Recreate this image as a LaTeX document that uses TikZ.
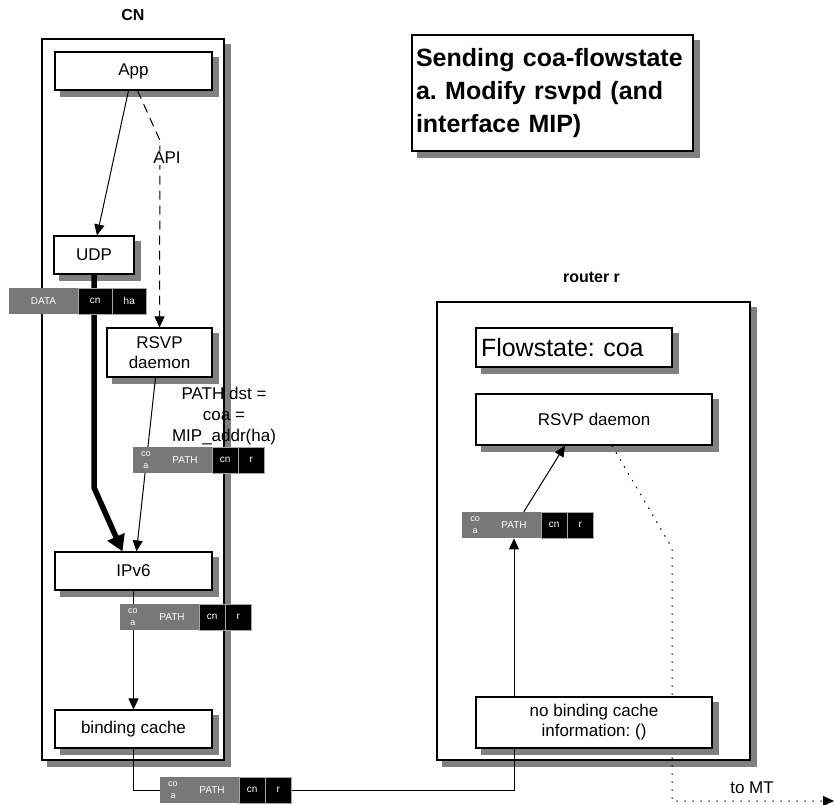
\documentclass[tikz,border=0pt]{standalone}
\usepackage{fontspec}
\setmainfont{Liberation Sans}
\frenchspacing
\usetikzlibrary{arrows.meta,calc,positioning}

\definecolor{pktgray}{RGB}{120,120,120}
\definecolor{boxshade}{RGB}{128,128,128}

% packet with a PATH header: name, left x, top y
\newcommand{\pathpkt}[3]{%
    \node[pktg,minimum width=79pt] (#1-g) at (#2,#3) {};
    \node[pkttxt,font=\fontsize{9}{12}\selectfont] at ({#2+13},{#3+13}) {co\\a};
    \node[pkttxt] at ({#2+52},{#3+13}) {PATH};
    \node[pktb] (#1-cn) at ({#2+79},#3) {cn};
    \node[pktb] (#1-r) at ({#2+105},#3) {r};
}

\begin{document}
\begin{tikzpicture}[x=1pt,y=-1pt,
    box/.style={rectangle,draw,line width=1.1pt,fill=white,align=center,inner sep=2pt,font=\fontsize{17}{20}\selectfont},
    % grey copy of a box, set 6pt right and down, drawn before the box itself
    shadowbox/.style={rectangle,fill=boxshade,draw=boxshade,line width=0.1pt,inner sep=0pt,outer sep=0pt},
    ttl/.style={font=\fontsize{16}{19}\selectfont\bfseries},
    lbl/.style={font=\fontsize{17}{21}\selectfont,align=center,inner sep=1pt},
    pktg/.style={rectangle,fill=pktgray,minimum height=26pt,inner sep=0pt,anchor=north west},
    pktb/.style={rectangle,fill=black,draw=gray!70,line width=0.5pt,text=white,minimum width=26pt,minimum height=26pt,
        inner sep=0pt,anchor=north west,font=\fontsize{10}{12}\selectfont},
    pkttxt/.style={text=white,align=center,inner sep=0pt,font=\fontsize{10}{12}\selectfont},
    arrow/.style={line width=1pt,-{Triangle[length=11pt,width=10pt]}},
    bigarrow/.style={line width=5.5pt,-{Triangle[length=16pt,width=18pt]}},
    dasharrow/.style={arrow,dash pattern=on 9pt off 6pt},
    dotarrow/.style={arrow,dash pattern=on 1.5pt off 6.5pt}
]
    \useasboundingbox (0,0) rectangle (835,805);

    % Hosts
    \node[shadowbox,minimum width=183pt,minimum height=722pt] at (139,405.5) {};
    \node[box,minimum width=182pt,minimum height=721pt] (cn) at (133,399.5) {};
    \node[ttl,above=14pt of cn.north,anchor=south] {CN};
    \node[shadowbox,minimum width=314pt,minimum height=459pt] at (599.5,537) {};
    \node[box,minimum width=313pt,minimum height=458pt] (router) at (593.5,531) {};
    \node[ttl,above=15pt of router.north,anchor=south,xshift=-2pt] {router r};

    % Title
    \node[shadowbox,minimum width=282pt,minimum height=117pt] at (558.5,99) {};
    \node[box,minimum width=281pt,minimum height=116pt,text width=273pt,align=left,inner xsep=4pt,
        font=\fontsize{25}{33}\selectfont\bfseries] (title) at (552.5,93)
        {Sending coa-flowstate\\a. Modify rsvpd (and\\interface MIP)};

    % CN stack
    \foreach \x/\y/\w/\h in {133.5/71/157/38, 94/255/80/38, 159.5/352.5/105/49, 133.5/571/157/38, 133.5/729/157/38}
        \node[shadowbox,minimum width=\w pt+1pt,minimum height=\h pt+1pt] at (\x+6,\y+6) {};
    \node[box,minimum width=157pt,minimum height=38pt] (app) at (133.5,71) {App};
    \node[box,minimum width=80pt,minimum height=38pt] (udp) at (94,255) {UDP};
    \node[box,minimum width=105pt,minimum height=49pt] (rsvp) at (159.5,352.5) {RSVP\\daemon};
    \node[box,minimum width=157pt,minimum height=38pt] (ipv6) at (133.5,571) {IPv6};
    \node[box,minimum width=157pt,minimum height=38pt] (bcache) at (133.5,729) {binding cache};

    % Router r
    \node[shadowbox,minimum width=197pt,minimum height=40pt] at (580,353.5) {};
    \node[shadowbox,minimum width=237pt,minimum height=52pt] at (600,425.5) {};
    \node[box,minimum height=39pt,text width=186pt,align=left,inner xsep=5pt,
        font=\fontsize{25}{30}\selectfont] (flow) at (574,347.5) {Flowstate: coa};
    \node[box,minimum width=236pt,minimum height=51pt] (rrsvp) at (594,419.5) {RSVP daemon};

    % onward to the mobile terminal
    \coordinate (turn) at (672,548);
    \coordinate (mt) at (834,801);
    \draw[dotarrow] ([xshift=18pt]rrsvp.south) -- (turn) -- (turn |- mt) -- (mt);
    \node[lbl] at (752,788) {to MT};

    \node[shadowbox,minimum width=237pt,minimum height=52pt] at (600,728.5) {};
    \node[box,minimum width=236pt,minimum height=51pt] (nobc) at (594,722.5) {no binding cache\\information: ()};

    % Connectors
    \draw[arrow] ([xshift=-5pt]app.south) -- ([xshift=3pt]udp.north);
    \draw[dasharrow] ([xshift=4pt]app.south) -- ++(22.5,50) -- (rsvp.north);
    \node[lbl,fill=white] (api) at (167,158) {API};
    \draw[bigarrow] (udp.south) -- ++(0,213) -- ([xshift=-11pt]ipv6.north);
    \draw[arrow] ([xshift=-4pt]rsvp.south) -- ([xshift=3pt]ipv6.north);
    \draw[arrow] (ipv6.south) -- (bcache.north);
    \draw[line width=1pt] (bcache.south) -- ++(0,42) -| ([xshift=-80pt]nobc.south);
    \coordinate (up) at ([xshift=-80pt]nobc.north);

    % Packets
    \node[pktg,minimum width=69pt] (data-g) at (9,288) {};
    \node[pkttxt] at (43.5,301) {DATA};
    \node[pktb,minimum width=34pt] (data-cn) at (78,288) {cn};
    \node[pktb,minimum width=34pt] (data-ha) at (112,288) {ha};
    \pathpkt{dpkt}{133}{447}
    \pathpkt{ipkt}{120}{604}
    \pathpkt{lpkt}{160}{777}
    \pathpkt{rpkt}{462}{512}

    \draw[arrow] (up) -- (up |- rpkt-g.south);
    \draw[arrow] ([xshift=22pt]rpkt-g.north) -- ([xshift=-29pt]rrsvp.south);

    \node[lbl] at (224,416) {PATH dst =\\coa =\\MIP\_addr(ha)};
\end{tikzpicture}
\end{document}
